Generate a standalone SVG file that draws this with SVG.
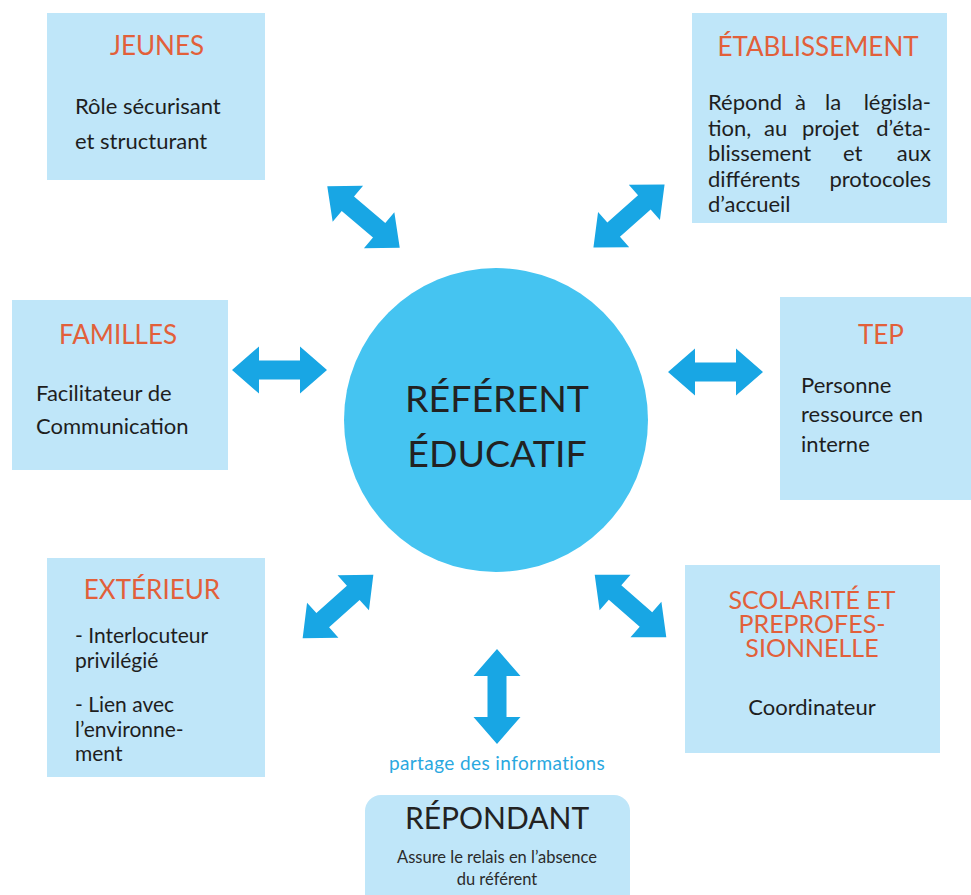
<svg xmlns="http://www.w3.org/2000/svg" xmlns:xlink="http://www.w3.org/1999/xlink" width="971" height="895" viewBox="0 0 971 895">
<defs>
<style>
.box{fill:#bfe6f9}
.title{font-family:Lato,"Liberation Sans",sans-serif;font-size:26px;fill:#e2603a;text-anchor:middle}
.title2{font-family:Lato,"Liberation Sans",sans-serif;font-size:25px;fill:#e2603a;text-anchor:middle}
.body{font-family:Lato,"Liberation Sans",sans-serif;font-size:22px;fill:#1e1e1e}
.body2{font-family:Lato,"Liberation Sans",sans-serif;font-size:21px;fill:#1e1e1e}
.end{text-anchor:end}
.arrow{fill:#18a6e4}
.center{font-family:Lato,"Liberation Sans",sans-serif;font-size:37.5px;fill:#222;text-anchor:middle}
</style>
<path id="dbl" d="M-47.5,0 L-20.5,-23.5 L-20.5,-9.5 L20.5,-9.5 L20.5,-23.5 L47.5,0 L20.5,23.5 L20.5,9.5 L-20.5,9.5 L-20.5,23.5 Z"/>
</defs>
<rect width="971" height="895" fill="#ffffff"/>
<g id="connectors" class="arrow">
<use xlink:href="#dbl" transform="translate(363.5,217) rotate(40.3)"/>
<use xlink:href="#dbl" transform="translate(629,216) rotate(-41.5)"/>
<use xlink:href="#dbl" transform="translate(279.5,370)"/>
<use xlink:href="#dbl" transform="translate(715.5,372)"/>
<use xlink:href="#dbl" transform="translate(338,606.5) rotate(-41.9)"/>
<use xlink:href="#dbl" transform="translate(630.5,606) rotate(41.1)"/>
<use xlink:href="#dbl" transform="translate(497,696.5) rotate(90)"/>
</g>
<g id="referent">
<circle cx="496" cy="420" r="152" fill="#45c4f1"/>
<text class="center" x="497" y="412">RÉFÉRENT</text>
<text class="center" x="497" y="467">ÉDUCATIF</text>
</g>
<g id="jeunes">
<rect class="box" x="47" y="13" width="218" height="167"/>
<text class="title" x="157" y="55">JEUNES</text>
<text class="body" x="75" y="114">Rôle sécurisant<tspan x="75" dy="35">et structurant</tspan></text>
</g>
<g id="etablissement">
<rect class="box" x="692" y="13" width="255" height="210"/>
<text class="title" x="818" y="56">ÉTABLISSEMENT</text>
<text class="body" y="110"><tspan x="708">Répond</tspan><tspan x="795">à</tspan><tspan x="825">la</tspan><tspan class="end" x="931">législa-</tspan></text>
<text class="body" y="135.5"><tspan x="708">tion,</tspan><tspan x="764">au</tspan><tspan x="802">projet</tspan><tspan class="end" x="931">d’éta-</tspan></text>
<text class="body" y="161"><tspan x="708">blissement</tspan><tspan x="843">et</tspan><tspan class="end" x="931">aux</tspan></text>
<text class="body" y="186.5"><tspan x="708">différents</tspan><tspan class="end" x="931">protocoles</tspan></text>
<text class="body" x="708" y="212">d’accueil</text>
</g>
<g id="familles">
<rect class="box" x="12" y="300" width="216" height="170"/>
<text class="title" x="118" y="344">FAMILLES</text>
<text class="body" x="36" y="401">Facilitateur de<tspan x="36" dy="33">Communication</tspan></text>
</g>
<g id="tep">
<rect class="box" x="780" y="297" width="191" height="203"/>
<text class="title" x="881" y="344">TEP</text>
<text class="body" x="801" y="393">Personne<tspan x="801" dy="29">ressource en</tspan><tspan x="801" dy="30">interne</tspan></text>
</g>
<g id="exterieur">
<rect class="box" x="47" y="558" width="218" height="219"/>
<text class="title" x="152" y="599">EXTÉRIEUR</text>
<text class="body2" x="75" y="643">- Interlocuteur<tspan x="75" dy="25">privilégié</tspan><tspan x="75" dy="44">- Lien avec</tspan><tspan x="75" dy="25">l’environne-</tspan><tspan x="75" dy="24">ment</tspan></text>
</g>
<g id="scolarite">
<rect class="box" x="685" y="565" width="255" height="188"/>
<text class="title2" x="812" y="609">SCOLARITÉ ET<tspan x="812" dy="24">PREPROFES-</tspan><tspan x="812" dy="24">SIONNELLE</tspan></text>
<text class="body" x="812" y="715" text-anchor="middle">Coordinateur</text>
</g>
<text x="497" y="770" font-family="Lato,'Liberation Sans',sans-serif" font-size="19" letter-spacing="0.4" fill="#2aa8df" text-anchor="middle">partage des informations</text>
<g id="repondant">
<rect class="box" x="365" y="795" width="265" height="120" rx="16"/>
<text x="497" y="829" font-family="Lato,'Liberation Sans',sans-serif" font-size="30" fill="#222" text-anchor="middle">RÉPONDANT</text>
<text x="497" y="863" font-family="Lato,'Liberation Sans',sans-serif" font-size="16.5" fill="#2b2b2b" text-anchor="middle">Assure le relais en l’absence<tspan x="497" dy="22">du référent</tspan></text>
</g>
</svg>
